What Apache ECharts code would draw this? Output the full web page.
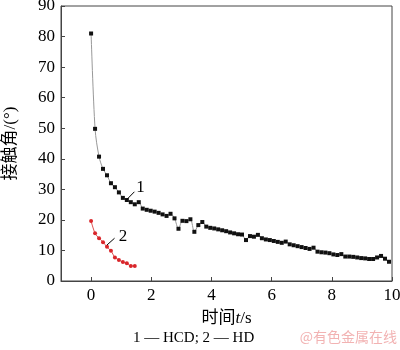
<!DOCTYPE html>
<html>
<head>
<meta charset="utf-8">
<script src="https://cdn.jsdelivr.net/npm/echarts@6/dist/echarts.min.js"></script>
<style>
  html, body { margin: 0; padding: 0; background: #fff; }
  #chart { width: 400px; height: 350px; }
</style>
</head>
<body>
<div id="chart"></div>
<script>
// Contact angle over time for the two coatings
const timeStep = 0.132;
const hcdAngle = [
  81.0, 49.8, 40.7, 36.7, 34.6, 32.0, 30.7, 29.0, 27.2, 26.5,
  25.8, 25.1, 25.8, 23.7, 23.3, 23.0, 22.7, 22.3, 21.8, 21.3,
  22.0, 20.5, 17.1, 19.7, 19.6, 20.2, 16.1, 18.3, 19.3, 17.8,
  17.4, 17.2, 16.9, 16.6, 16.3, 15.9, 15.6, 15.3, 15.2, 13.4,
  14.7, 14.5, 15.1, 14.0, 13.6, 13.4, 13.1, 12.8, 12.5, 12.9,
  12.0, 11.7, 11.4, 11.1, 10.8, 10.5, 10.9, 9.6, 9.4, 9.3,
  9.1, 8.7, 8.5, 8.8, 8.0, 8.0, 7.9, 7.7, 7.5, 7.4,
  7.2, 7.2, 7.7, 8.2, 7.3, 6.3
];
const hdAngle = [19.6, 15.6, 14.0, 12.7, 11.2, 9.9, 7.7, 6.9, 6.2, 5.8, 4.9, 4.9];

const xTickValues = [0, 2, 4, 6, 8, 10];
const yTickValues = [0, 10, 20, 30, 40, 50, 60, 70, 80, 90];

// Curve labels: leader start, leader end, text position (data coordinates)
const label1 = { from: [1.17, 26.5], to: [1.44, 29.2], text: [1.64, 30.6], name: '1' };
const label2 = { from: [0.53, 11.8], to: [0.78, 14.0], text: [1.06, 14.6], name: '2' };

const toPairs = (arr) => arr.map((v, i) => [+(i * timeStep).toFixed(3), v]);

const serif = '"Liberation Serif", "Times New Roman", serif';
const cjk = '"Liberation Serif", "Noto Sans CJK SC", serif';

function leader(lbl) {
  return {
    silent: true,
    symbol: ['none', 'none'],
    lineStyle: { color: '#000', width: 1, type: 'solid' },
    label: { show: false },
    data: [[{ coord: lbl.from }, { coord: lbl.to }]]
  };
}
function tag(lbl) {
  return {
    silent: true,
    symbol: 'circle',
    symbolSize: 0,
    label: {
      show: true, position: 'inside', formatter: lbl.name,
      color: '#000', fontFamily: serif, fontSize: 17
    },
    data: [{ coord: lbl.text }]
  };
}

const chart = echarts.init(document.getElementById('chart'), null, { renderer: 'canvas' });
chart.setOption({
  animation: false,
  backgroundColor: '#fff',
  grid: {
    left: 61, right: 8, top: 6, bottom: 69,
    outerBoundsMode: 'none', containLabel: false,
    show: true, borderColor: '#444', borderWidth: 1, backgroundColor: 'transparent'
  },
  xAxis: {
    type: 'value', min: -1, max: 10,
    name: '{n|时间}{i|t}{n|/s}', nameLocation: 'middle', nameGap: 29,
    nameTextStyle: {
      rich: {
        n: { fontFamily: cjk, fontSize: 17, color: '#000' },
        i: { fontFamily: serif, fontStyle: 'italic', fontSize: 17, color: '#000' }
      }
    },
    axisLine: { show: true, onZero: false, lineStyle: { color: '#444', width: 1 } },
    axisTick: { show: true, inside: true, length: 4, customValues: xTickValues, lineStyle: { color: '#444' } },
    axisLabel: { customValues: xTickValues, color: '#000', fontFamily: serif, fontSize: 17, margin: 6 },
    splitLine: { show: false }
  },
  yAxis: {
    type: 'value', min: 0, max: 90, interval: 10,
    name: '接触角/(°)', nameLocation: 'middle', nameGap: 42, nameRotate: 90,
    nameTextStyle: { fontFamily: cjk, fontSize: 17, color: '#000' },
    axisLine: { show: true, onZero: false, lineStyle: { color: '#444', width: 1 } },
    axisTick: { show: true, inside: true, length: 4, lineStyle: { color: '#444' } },
    axisLabel: { color: '#000', fontFamily: serif, fontSize: 17, margin: 6,
      formatter: (v) => yTickValues.includes(v) ? String(v) : '' },
    splitLine: { show: false }
  },
  series: [
    {
      name: 'HCD', type: 'line', data: toPairs(hcdAngle),
      symbol: 'rect', symbolSize: 4,
      itemStyle: { color: '#111' },
      lineStyle: { color: '#999', width: 1 },
      smooth: 0.3,
      markLine: leader(label1),
      markPoint: tag(label1),
      z: 3
    },
    {
      name: 'HD', type: 'line', data: toPairs(hdAngle),
      symbol: 'circle', symbolSize: 4,
      itemStyle: { color: '#d9262b' },
      lineStyle: { color: '#e05050', width: 1 },
      smooth: 0.3,
      markLine: leader(label2),
      markPoint: tag(label2),
      z: 3
    }
  ],
  graphic: [
    {
      type: 'text', left: 133, top: 331,
      style: { text: '1 — HCD; 2 — HD', fontFamily: serif, fontSize: 15, fill: '#000' }
    },
    {
      type: 'text', right: 3, top: 330,
      style: { text: '@有色金属在线', fontFamily: '"Noto Sans CJK SC", sans-serif', fontSize: 14, fill: '#f2b3b3' }
    }
  ]
});
</script>
</body>
</html>
